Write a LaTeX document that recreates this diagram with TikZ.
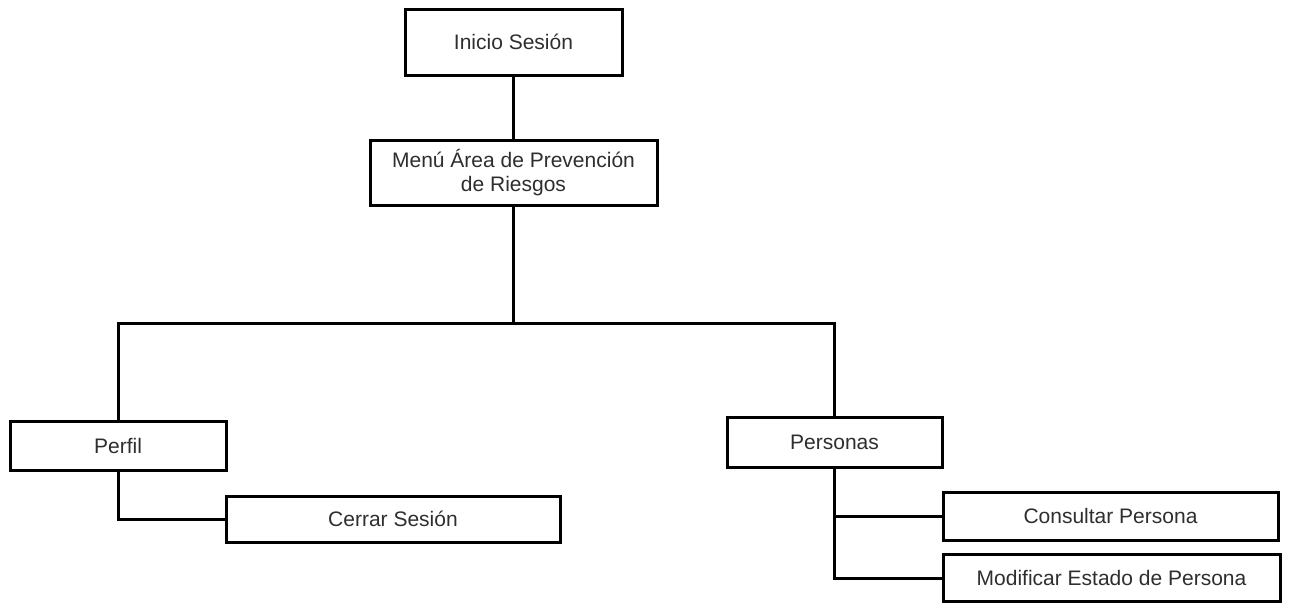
\documentclass[tikz,border=0pt]{standalone}
\usepackage{fontspec}
\setmainfont{Liberation Sans}
\definecolor{txt}{HTML}{2E2E2E}
\begin{document}
\begin{tikzpicture}[x=1pt,y=-1pt,
  box/.style={draw=black, line width=3pt, inner sep=0pt, align=center,
    font=\fontsize{21}{24}\selectfont, text=txt},
  conn/.style={draw=black, line width=3pt}]
\useasboundingbox (0,0) rectangle (1289,603);
\node[box, minimum width=217pt, minimum height=66pt] (inicio) at (513.5,42) {Inicio Sesión};
\node[box, minimum width=287pt, minimum height=65pt] (menu) at (513.5,172.5) {Menú Área de Prevención\\de Riesgos};
\node[box, minimum width=216pt, minimum height=49pt] (perfil) at (118,445.5) {Perfil};
\node[box, minimum width=334pt, minimum height=46pt] (cerrar) at (393,519) {Cerrar Sesión};
\node[box, minimum width=215pt, minimum height=50pt] (personas) at (834.5,442) {Personas};
\node[box, minimum width=335pt, minimum height=48pt] (consultar) at (1110.5,516) {Consultar Persona};
\node[box, minimum width=337pt, minimum height=47pt] (modificar) at (1111.5,578) {Modificar Estado de Persona};
\coordinate (j) at (513.5,323);
\draw[conn] (inicio.south) -- (menu.north);
\draw[conn] (menu.south) -- (j);
\draw[conn] (perfil.north) |- (j) -| (personas.north);
\draw[conn] (perfil.south) |- (cerrar.west);
\draw[conn] (personas.south) |- (consultar.west);
\draw[conn] (personas.south) |- (modificar.west);
\end{tikzpicture}
\end{document}
